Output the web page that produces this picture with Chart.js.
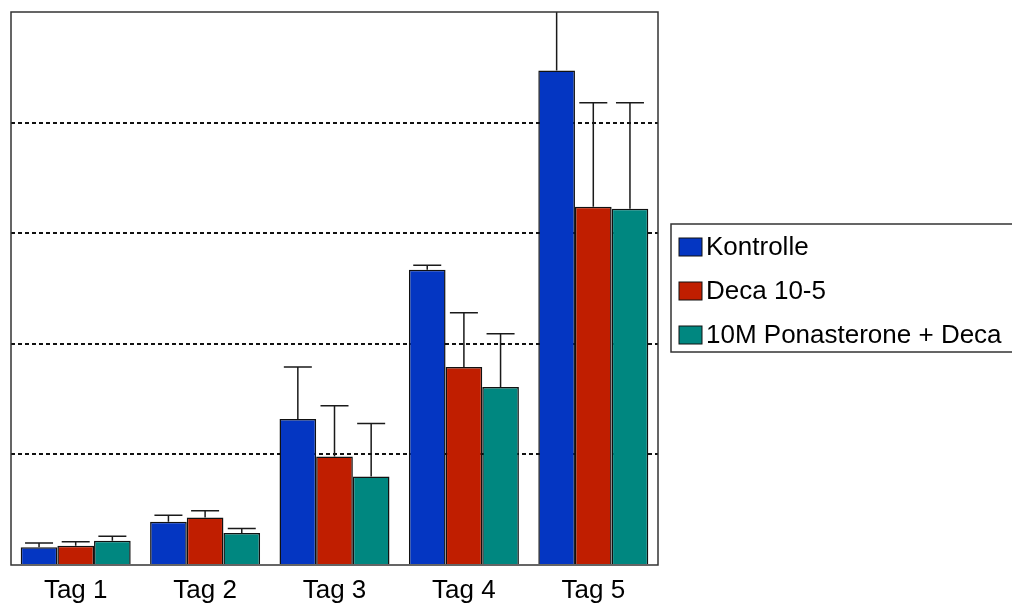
<!DOCTYPE html>
<html>
<head>
<meta charset="utf-8">
<script src="https://cdn.jsdelivr.net/npm/chart.js@4/dist/chart.umd.min.js"></script>
<style>
html,body{margin:0;padding:0;background:#fff;}
#wrap{width:1012px;height:608px;}
</style>
</head>
<body>
<div id="wrap"><canvas id="c" width="1012" height="608"></canvas></div>
<script>
const categories = ['Tag 1', 'Tag 2', 'Tag 3', 'Tag 4', 'Tag 5'];
const seriesNames = ['Kontrolle', 'Deca 10-5', '10M Ponasterone + Deca'];
const kontrolle = [0.16, 0.39, 1.32, 2.67, 4.47];
const kontrolleErrTop = [0.20, 0.45, 1.79, 2.71, 5.3];
const deca = [0.175, 0.43, 0.98, 1.79, 3.24];
const decaErrTop = [0.21, 0.49, 1.44, 2.28, 4.18];
const ponast = [0.22, 0.29, 0.80, 1.61, 3.22];
const ponastErrTop = [0.26, 0.33, 1.28, 2.09, 4.18];
const yTicks = [0, 1, 2, 3, 4, 5];
const colors = ['#0436C2', '#C01E00', '#008780'];

const errTops = [kontrolleErrTop, decaErrTop, ponastErrTop];

const errorBarPlugin = {
  id: 'errorBars',
  afterDatasetsDraw(chart) {
    const ctx = chart.ctx;
    const ys = chart.scales.y;
    const area = chart.chartArea;
    ctx.save();
    ctx.beginPath();
    ctx.rect(area.left, area.top, area.right - area.left, area.bottom - area.top);
    ctx.clip();
    ctx.strokeStyle = '#1a1a1a';
    ctx.lineWidth = 1.5;
    chart.data.datasets.forEach((ds, di) => {
      const meta = chart.getDatasetMeta(di);
      meta.data.forEach((bar, i) => {
        const x = bar.x;
        const y0 = bar.y;
        const y1 = ys.getPixelForValue(errTops[di][i]);
        const cap = 14;
        ctx.beginPath();
        ctx.moveTo(x, y0);
        ctx.lineTo(x, y1);
        ctx.moveTo(x - cap, y1);
        ctx.lineTo(x + cap, y1);
        ctx.stroke();
      });
    });
    ctx.restore();
  }
};

const framePlugin = {
  id: 'frame',
  afterDraw(chart) {
    const ctx = chart.ctx;
    const a = chart.chartArea;
    ctx.save();
    ctx.strokeStyle = '#333';
    ctx.lineWidth = 1.5;
    ctx.strokeRect(a.left, a.top, a.right - a.left, a.bottom - a.top);
    // legend
    const lx = 671, ly = 224, lw = 360, lh = 128;
    ctx.strokeRect(lx, ly, lw, lh);
    ctx.font = '26px "Liberation Sans", Arial, sans-serif';
    ctx.textBaseline = 'middle';
    ctx.textAlign = 'left';
    const rowY = [247, 291, 335];
    chart.data.datasets.forEach((ds, di) => {
      const y = rowY[di];
      ctx.fillStyle = ds.backgroundColor;
      ctx.fillRect(679, y - 9, 23, 18);
      ctx.lineWidth = 1;
      ctx.strokeStyle = '#111';
      ctx.strokeRect(679, y - 9, 23, 18);
      ctx.fillStyle = '#000';
      ctx.fillText(ds.label, 706, y + 1);
    });
    ctx.restore();
  }
};

new Chart(document.getElementById('c'), {
  type: 'bar',
  data: {
    labels: categories,
    datasets: [
      { label: seriesNames[0], data: kontrolle, backgroundColor: colors[0] },
      { label: seriesNames[1], data: deca, backgroundColor: colors[1] },
      { label: seriesNames[2], data: ponast, backgroundColor: colors[2] }
    ].map(d => Object.assign(d, { borderColor: '#111', borderWidth: 1.5, categoryPercentage: 0.85, barPercentage: 1 }))
  },
  options: {
    responsive: false,
    animation: false,
    layout: { padding: { left: 11, top: 12, right: 354, bottom: 0 } },
    plugins: { legend: { display: false }, tooltip: { enabled: false } },
    scales: {
      x: {
        grid: { display: false, drawTicks: false },
        border: { display: false },
        afterFit(scale) { scale.height = 43; },
        ticks: { color: '#000', padding: 10, font: { size: 26, family: '"Liberation Sans", Arial, sans-serif' } }
      },
      y: {
        min: 0, max: 5,
        afterBuildTicks(scale) { scale.ticks = yTicks.map(v => ({ value: v })); },
        ticks: { display: false },
        border: { display: false, dash: [4, 3] },
        grid: {
          drawTicks: false,
          color: c => (c.tick && (c.tick.value === 0 || c.tick.value === 5)) ? 'rgba(0,0,0,0)' : '#111',
          lineWidth: 2
        }
      }
    }
  },
  plugins: [errorBarPlugin, framePlugin]
});
</script>
</body>
</html>
